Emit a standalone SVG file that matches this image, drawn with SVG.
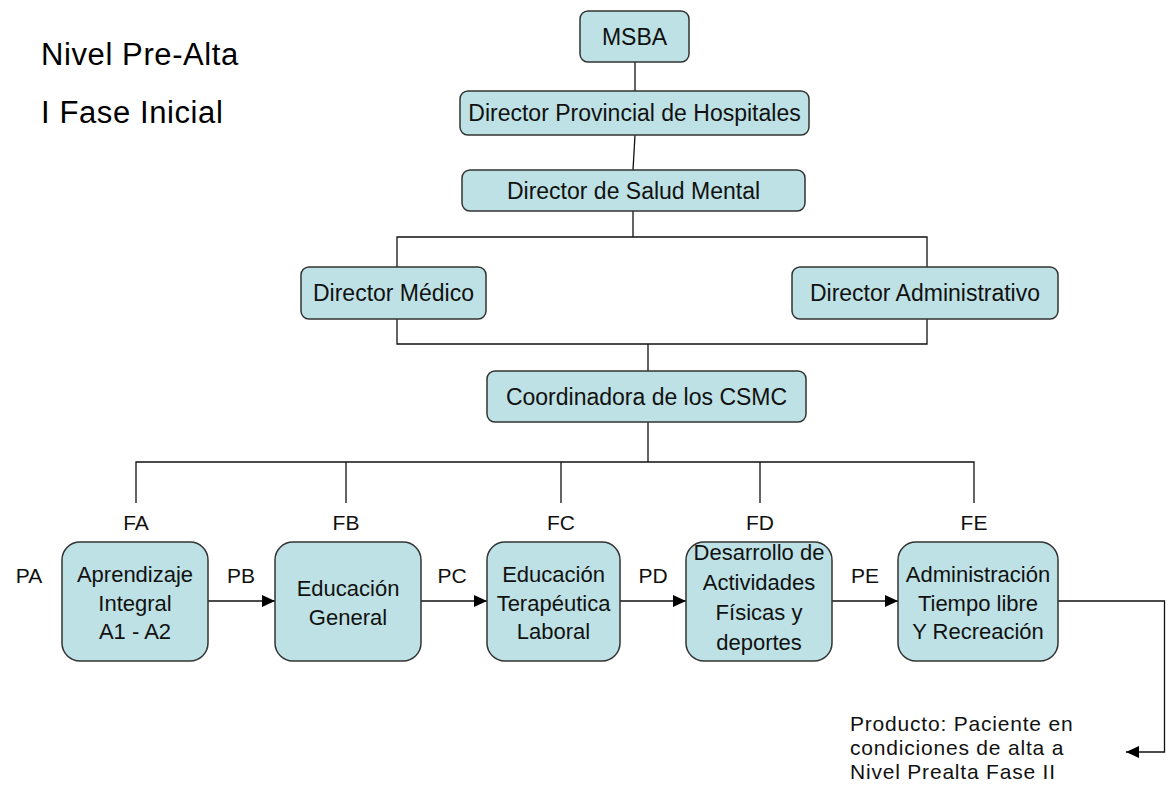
<svg xmlns="http://www.w3.org/2000/svg" width="1166" height="790" viewBox="0 0 1166 790">
<style>
.box{fill:#bde1e4;stroke:#333;stroke-width:1.5}
.t{font-family:"Liberation Sans",Arial,sans-serif;font-size:23px;fill:#111;text-anchor:middle}
.b{font-family:"Liberation Sans",Arial,sans-serif;font-size:22px;fill:#111;text-anchor:middle}
.l{font-family:"Liberation Sans",Arial,sans-serif;font-size:21px;fill:#111;text-anchor:middle}
.h{font-family:"Liberation Sans",Arial,sans-serif;font-size:31px;letter-spacing:0.6px;fill:#000}
.p{font-family:"Liberation Sans",Arial,sans-serif;font-size:21px;letter-spacing:0.8px;fill:#111}
.c{fill:none;stroke:#111;stroke-width:1.3}
</style>
<defs>
<marker id="ah" markerWidth="14" markerHeight="14" refX="13" refY="6.5" orient="auto" markerUnits="userSpaceOnUse">
<path d="M0,0.5 L13,6.5 L0,12.5 Z" fill="#000"/>
</marker>
</defs>
<rect width="1166" height="790" fill="#fff"/>
<g id="titles">
<text class="h" x="41" y="65">Nivel Pre-Alta</text>
<text class="h" x="41" y="123">I Fase Inicial</text>
</g>
<g id="connectors">
<path class="c" d="M635,62 V91"/>
<path class="c" d="M635,135 L633,170"/>
<path class="c" d="M633,211 V237 M397,267 V237 H927 V267"/>
<path class="c" d="M397,319 V344 H927 V319 M648,344 V371"/>
<path class="c" d="M648,422 V462 M136,503 V462 H974 V503 M346,462 V503 M561,462 V503 M760,462 V503"/>
<path class="c" d="M208,601 H275" marker-end="url(#ah)"/>
<path class="c" d="M421,601 H487" marker-end="url(#ah)"/>
<path class="c" d="M620,601 H686" marker-end="url(#ah)"/>
<path class="c" d="M832,601 H898" marker-end="url(#ah)"/>
<path class="c" d="M1058,601 H1164.5 V752 H1126" marker-end="url(#ah)"/>
</g>
<g id="msba"><rect class="box" x="580" y="11" width="109" height="51" rx="8"/><text class="t" x="634.5" y="45">MSBA</text></g>
<g id="dir-prov"><rect class="box" x="460" y="91" width="349" height="44" rx="8"/><text class="t" x="634.5" y="121">Director Provincial de Hospitales</text></g>
<g id="dir-salud"><rect class="box" x="462" y="170" width="343" height="41" rx="8"/><text class="t" x="633.5" y="199">Director de Salud Mental</text></g>
<g id="dir-medico"><rect class="box" x="301" y="267" width="185" height="52" rx="8"/><text class="t" x="393.5" y="301">Director Médico</text></g>
<g id="dir-admin"><rect class="box" x="792" y="267" width="266" height="52" rx="8"/><text class="t" x="925" y="301">Director Administrativo</text></g>
<g id="coord"><rect class="box" x="487" y="371" width="319" height="51" rx="8"/><text class="t" x="646.5" y="405">Coordinadora de los CSMC</text></g>
<g id="labels">
<text class="l" x="136" y="530">FA</text>
<text class="l" x="346" y="530">FB</text>
<text class="l" x="561" y="530">FC</text>
<text class="l" x="760" y="530">FD</text>
<text class="l" x="974" y="530">FE</text>
<text class="l" x="29" y="583">PA</text>
<text class="l" x="241" y="583">PB</text>
<text class="l" x="452" y="583">PC</text>
<text class="l" x="653" y="583">PD</text>
<text class="l" x="865" y="583">PE</text>
</g>
<g id="fa"><rect class="box" x="62" y="542" width="146" height="119" rx="18"/>
<text class="b" x="135" y="582">Aprendizaje</text><text class="b" x="135" y="611">Integral</text><text class="b" x="135" y="639">A1 - A2</text></g>
<g id="fb"><rect class="box" x="275" y="542" width="146" height="119" rx="18"/>
<text class="b" x="348" y="596">Educación</text><text class="b" x="348" y="625">General</text></g>
<g id="fc"><rect class="box" x="487" y="542" width="133" height="119" rx="18"/>
<text class="b" x="553.5" y="582">Educación</text><text class="b" x="553.5" y="611">Terapéutica</text><text class="b" x="553.5" y="639">Laboral</text></g>
<g id="fd"><rect class="box" x="686" y="542" width="146" height="119" rx="18"/>
<text class="b" x="759" y="560">Desarrollo de</text><text class="b" x="759" y="590">Actividades</text><text class="b" x="759" y="620">Físicas y</text><text class="b" x="759" y="650">deportes</text></g>
<g id="fe"><rect class="box" x="898" y="542" width="160" height="119" rx="18"/>
<text class="b" x="978" y="582">Administración</text><text class="b" x="978" y="611">Tiempo libre</text><text class="b" x="978" y="639">Y Recreación</text></g>
<g id="producto">
<text class="p" x="850" y="731">Producto: Paciente en</text>
<text class="p" x="850" y="755">condiciones de alta a</text>
<text class="p" x="850" y="779">Nivel Prealta Fase II</text>
</g>
</svg>
